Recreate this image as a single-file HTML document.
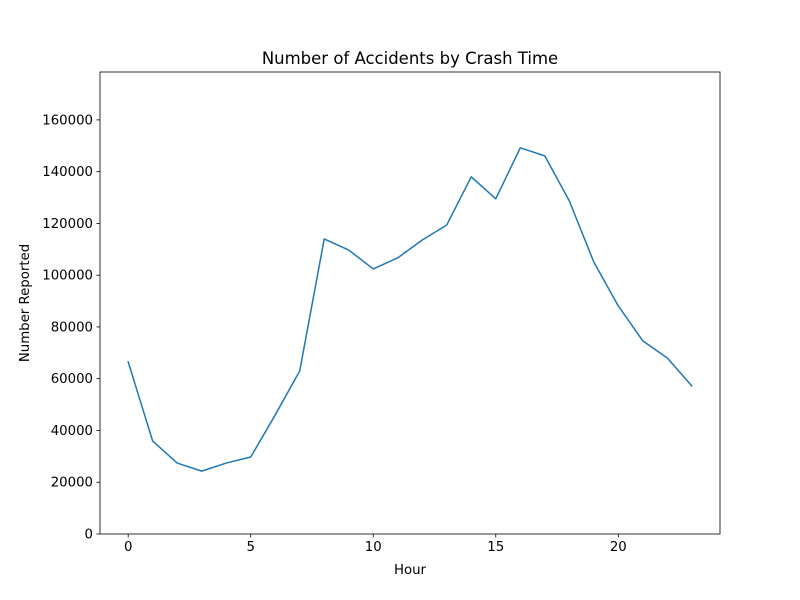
<!DOCTYPE html>
<html><head><meta charset="utf-8"><style>
body{margin:0;background:#fff;}
svg{display:block;font-family:"DejaVu Sans","Liberation Sans",sans-serif;}
</style></head><body>
<svg id="chart" width="800" height="600">
<rect x="0" y="0" width="800" height="600" fill="#fff"/>
</svg>
<script>
const hours = [0,1,2,3,4,5,6,7,8,9,10,11,12,13,14,15,16,17,18,19,20,21,22,23];
const accidents = [66500,35900,27400,24300,27400,29750,46000,63000,114000,109700,102400,106700,113600,119400,138000,129500,149200,146100,128700,105100,88100,74600,68000,57200];
const xTicks = [0,5,10,15,20];
const yTicks = [0,20000,40000,60000,80000,100000,120000,140000,160000];

const L=100,R=720,T=72,B=534;
const xMin=-1.15,xMax=24.15,yMin=0,yMax=178500;
const sx=v=>L+(v-xMin)/(xMax-xMin)*(R-L);
const sy=v=>B-(v-yMin)/(yMax-yMin)*(B-T);
const svg=document.getElementById('chart');
const NS='http://www.w3.org/2000/svg';
function mk(tag,attrs,text){const e=document.createElementNS(NS,tag);for(const k in attrs)e.setAttribute(k,attrs[k]);if(text!==undefined)e.textContent=text;svg.appendChild(e);return e;}

const pts=hours.map((h,i)=>sx(h).toFixed(2)+','+sy(accidents[i]).toFixed(2)).join(' ');
const line=mk('polyline',{points:pts,fill:'none',stroke:'#1f77b4','stroke-width':1.5,'stroke-linejoin':'round','stroke-linecap':'square'});



const frame=mk('rect',{x:L,y:T,width:R-L,height:B-T,fill:'none',stroke:'#000','stroke-width':0.8});



xTicks.forEach(t=>{
  const x=sx(t);
  mk('line',{x1:x,x2:x,y1:B,y2:B+3.5,stroke:'#000','stroke-width':0.8});
  const lb=mk('text',{x:x,y:B+17,'text-anchor':'middle','font-size':'13.3'},String(t));
  
  
});
yTicks.forEach(t=>{
  const y=sy(t);
  mk('line',{x1:L,x2:L-3.5,y1:y,y2:y,stroke:'#000','stroke-width':0.8});
  const lb=mk('text',{x:L-7,y:y+4.5,'text-anchor':'end','font-size':'13.3'},String(t));
  
  
});
const title=mk('text',{x:410,y:64,'text-anchor':'middle','font-size':'16.5'},'Number of Accidents by Crash Time');


const xt=mk('text',{x:410,y:574,'text-anchor':'middle','font-size':'13.3'},'Hour');


const yt=mk('text',{x:29,y:303,'text-anchor':'middle','font-size':'13.3',transform:'rotate(-90 29 303)'},'Number Reported');


</script>
</body></html>
